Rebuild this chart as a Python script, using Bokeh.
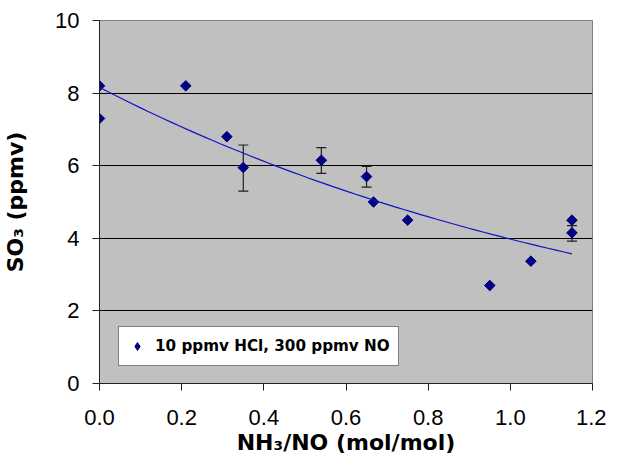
import numpy as np
from bokeh.plotting import figure
from bokeh.models import (ColumnDataSource, Whisker, TeeHead, FixedTicker,
                          NumeralTickFormatter, Legend, LegendItem, Range1d)
from bokeh.embed import file_html
from bokeh.resources import INLINE

# ---- data ----
nh3_no = [0.0, 0.0, 0.21, 0.31, 0.35, 0.54, 0.65, 0.667, 0.75, 0.95, 1.05, 1.15, 1.15]
so3 = [8.2, 7.3, 8.2, 6.8, 5.95, 6.15, 5.7, 5.0, 4.5, 2.7, 3.37, 4.5, 4.15]

err_x = [0.35, 0.54, 0.65, 1.15]
err_hi = [6.57, 6.50, 5.98, 4.35]
err_lo = [5.30, 5.79, 5.41, 3.92]

x_ticks = [0.0, 0.2, 0.4, 0.6, 0.8, 1.0, 1.2]
y_ticks = [0, 2, 4, 6, 8, 10]
series_label = "10 ppmv HCl, 300 ppmv NO"

# exponential trendline (least squares on log y, as a spreadsheet trendline)
b, a = np.polyfit(np.array(nh3_no), np.log(np.array(so3)), 1)
tx = np.linspace(min(nh3_no), max(nh3_no), 60)
ty = np.exp(a) * np.exp(b * tx)

p = figure(width=606, height=458,
           x_range=Range1d(0, 1.2), y_range=Range1d(0, 10),
           output_backend="svg", toolbar_location=None,
           min_border_left=97, min_border_right=14,
           min_border_top=20, min_border_bottom=75,
           background_fill_color="#C0C0C0", border_fill_color="white")
p.outline_line_color = "#808080"
p.outline_line_width = 1

src = ColumnDataSource(dict(x=nh3_no, y=so3))

# diamond renderer used for the legend icon; it sits under the data markers
icon = p.scatter("x", "y", source=src, marker="diamond", size=6,
                 fill_color="#000080", line_color="#000080")
# data markers (equal-sided diamonds)
sc = p.scatter("x", "y", source=src, marker="square", angle=np.pi / 4,
               size=7.5, fill_color="#000080", line_color="#000080")

p.line(tx, ty, line_color="#1010C8", line_width=1.2)

esrc = ColumnDataSource(dict(x=err_x, hi=err_hi, lo=err_lo))
wh = Whisker(source=esrc, base="x", upper="hi", lower="lo", dimension="height",
             line_color="#202020", line_width=1.2,
             upper_head=TeeHead(size=10, line_color="#202020", line_width=1.2),
             lower_head=TeeHead(size=10, line_color="#202020", line_width=1.2))
p.add_layout(wh)

# grid
p.xgrid.visible = False
p.ygrid.grid_line_color = "black"
p.ygrid.grid_line_width = 1
p.ygrid.ticker = FixedTicker(ticks=y_ticks)

# axes
p.xaxis.ticker = FixedTicker(ticks=x_ticks)
p.yaxis.ticker = FixedTicker(ticks=y_ticks)
p.xaxis.formatter = NumeralTickFormatter(format="0.0")
p.yaxis.formatter = NumeralTickFormatter(format="0")
for ax in (p.xaxis[0], p.yaxis[0]):
    ax.axis_line_color = "#202020"
    ax.major_tick_line_color = "#202020"
    ax.major_tick_in = 0
    ax.major_tick_out = 7
    ax.minor_tick_line_color = None
    ax.major_label_text_font = "Liberation Sans"
    ax.major_label_text_font_size = "22px"
    ax.major_label_text_color = "black"
    ax.axis_label_text_font = "DejaVu Sans"
    ax.axis_label_text_font_style = "bold"
    ax.axis_label_text_font_size = "22px"
    ax.axis_label_text_color = "black"

p.xaxis.axis_label = "NH₃/NO (mol/mol)"
p.yaxis.axis_label = "SO₃ (ppmv)"
p.xaxis.major_label_standoff = 19
p.xaxis.axis_label_standoff = 2
p.yaxis.major_label_standoff = 13
p.yaxis.axis_label_standoff = 24

legend = Legend(items=[LegendItem(label=series_label, renderers=[icon])],
                location=(19, 17), orientation="vertical",
                padding=8, margin=0, spacing=0,
                glyph_width=20, glyph_height=20, label_standoff=8,
                label_height=22,
                label_text_font="DejaVu Sans", label_text_font_style="bold",
                label_text_font_size="15.2px", label_text_color="black",
                border_line_color="black", border_line_width=1,
                background_fill_color="white", background_fill_alpha=1.0)
p.add_layout(legend, "center")

open("out.html", "w").write(file_html(p, INLINE))
